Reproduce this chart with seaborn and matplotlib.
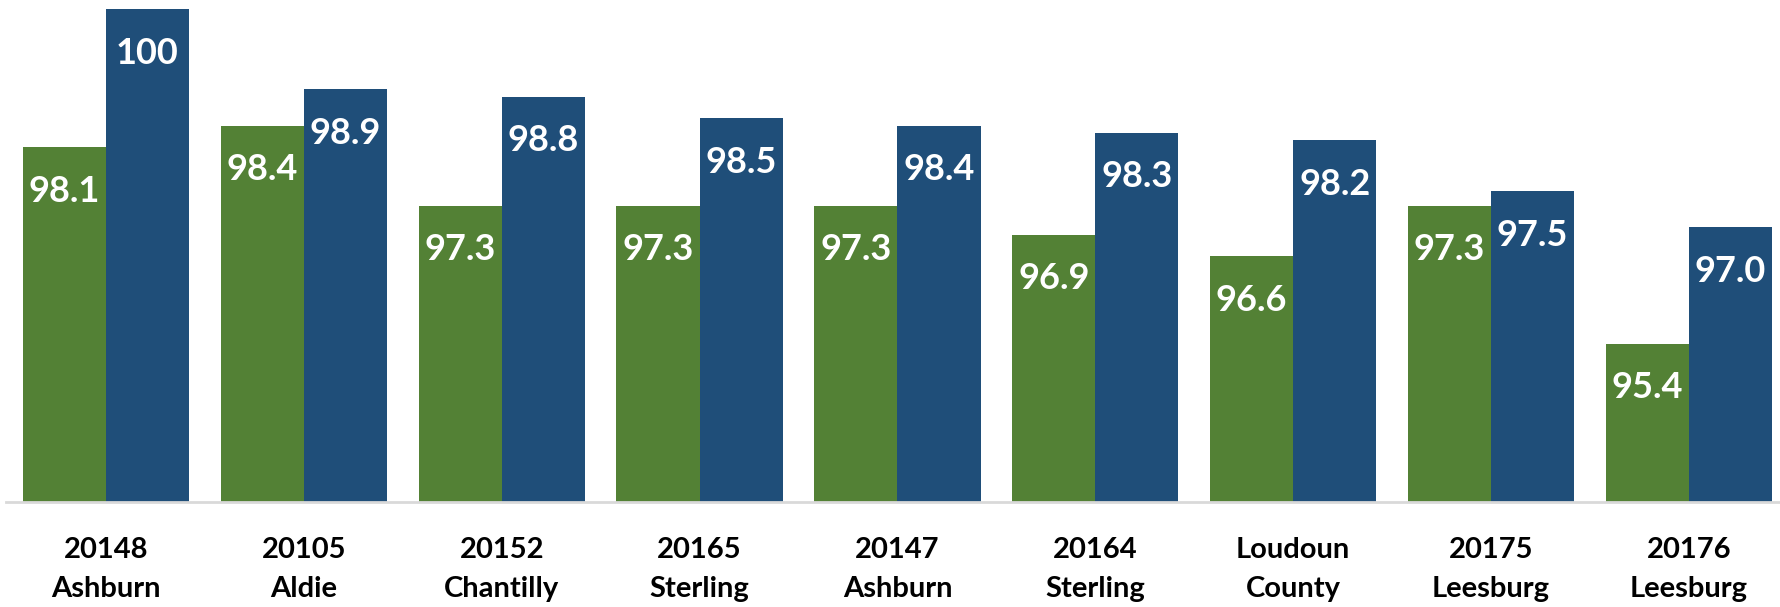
import matplotlib
matplotlib.use("Agg")
import matplotlib.pyplot as plt
import seaborn as sns
import pandas as pd

categories = ["20148\nAshburn", "20105\nAldie", "20152\nChantilly", "20165\nSterling",
              "20147\nAshburn", "20164\nSterling", "Loudoun\nCounty", "20175\nLeesburg",
              "20176\nLeesburg"]
series_names = ["Series A", "Series B"]
green_values = [98.1, 98.4, 97.3, 97.3, 97.3, 96.9, 96.6, 97.3, 95.4]
blue_values = [100, 98.9, 98.8, 98.5, 98.4, 98.3, 98.2, 97.5, 97.0]

df = pd.DataFrame({
    "category": categories * 2,
    "series": [series_names[0]] * len(categories) + [series_names[1]] * len(categories),
    "value": green_values + blue_values,
})

sns.set_theme(style="white")
plt.rcParams["font.family"] = ["Lato", "DejaVu Sans"]

fig = plt.figure(figsize=(17.81, 6.07), dpi=100)
ax = fig.add_axes([6 / 1781, 105 / 607, 1 - 6 / 1781, 502 / 607])

sns.barplot(data=df, x="category", y="value", hue="series", order=categories,
            hue_order=series_names, palette=["#538135", "#1F4E79"],
            width=0.84, gap=0, legend=False, ax=ax, saturation=1,
            edgecolor="none", linewidth=0)

ax.set_ylim(93.22, 100.13)
ax.set_xlim(-0.505, 8.465)

def fmt(v):
    return "100" if v >= 100 else f"{v:.1f}"

for p in ax.patches:
    h = p.get_height()
    if h <= 0:
        continue
    ax.annotate(fmt(h), xy=(p.get_x() + p.get_width() / 2, h),
                xytext=(0, -44), textcoords="offset pixels",
                ha="center", va="center", color="white",
                fontsize=26, fontweight="bold")

ax.set_xlabel("")
ax.set_ylabel("")
ax.set_yticks([])
ax.tick_params(axis="x", length=0, pad=25)
for lbl in ax.get_xticklabels():
    lbl.set_fontsize(21)
    lbl.set_fontweight("bold")
    lbl.set_color("black")
    lbl.set_linespacing(1.65)

for s in ["top", "left", "right"]:
    ax.spines[s].set_visible(False)
ax.spines["bottom"].set_color("#d9d9d9")
ax.spines["bottom"].set_linewidth(2)

fig.savefig("out.png", dpi=100)
